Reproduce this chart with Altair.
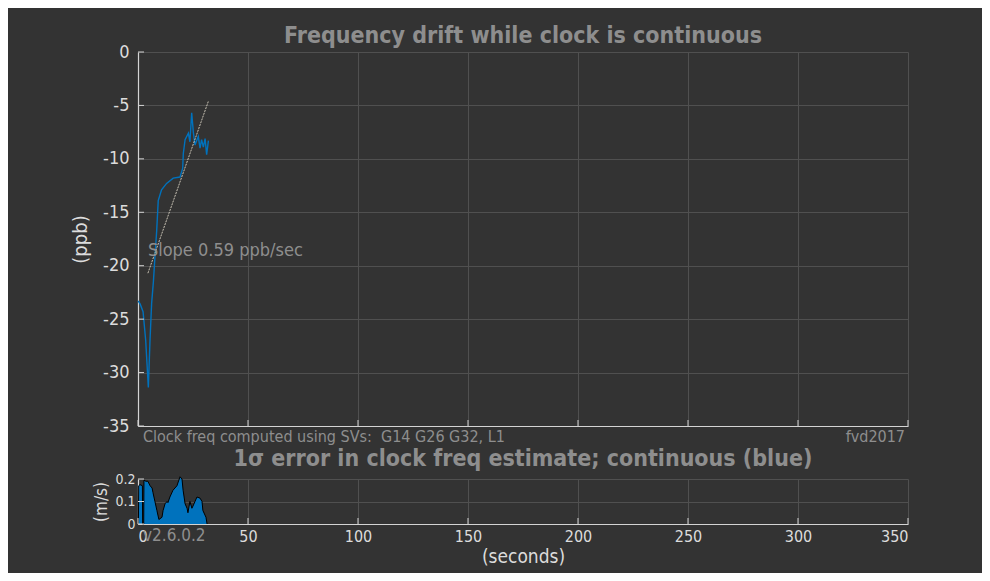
import altair as alt
import pandas as pd

# ---- data ----
drift_t = [0.1, 1.0, 2.3, 3.5, 4.7, 5.45, 6.2, 7.0, 7.7, 8.5, 9.2, 10.7, 13.0, 16.0, 19.1,
           20.3, 20.6, 21.4, 22.9, 23.6, 24.4, 25.2, 25.9, 27.4, 28.2, 28.9, 29.7, 30.5, 31.2, 32.0]
drift_v = [-23.3, -23.6, -24.3, -27.0, -31.4, -27.0, -23.5, -21.5, -19.2, -16.7, -13.9, -12.9,
           -12.3, -11.8, -11.7, -10.9, -9.5, -8.2, -7.6, -8.4, -5.7, -7.6, -8.7, -7.9, -9.0,
           -8.2, -8.9, -8.1, -9.6, -8.3]

fit_t = [4.5, 32.0]
fit_v = [-20.7, -4.6]

err_t = [0.2, 0.3, 0.9, 2.0, 2.1, 2.6, 2.7, 3.6, 4.5, 5.5, 6.4, 6.8, 7.7, 8.6, 9.5, 10.9, 11.4,
         12.3, 13.2, 13.6, 14.5, 15.9, 17.7, 19.1, 20.0, 20.5, 21.4, 22.3, 22.7, 23.6, 24.5,
         25.0, 25.9, 26.8, 28.2, 29.1, 29.5, 30.9, 31.4]
err_v = [0, 0.17, 0.175, 0.17, 0, 0, 0.195, 0.19, 0.19, 0.17, 0.16, 0.14, 0.10, 0.06, 0.02,
         0.03, 0.06, 0.09, 0.10, 0.095, 0.12, 0.15, 0.17, 0.21, 0.20, 0.15, 0.09, 0.07, 0.05,
         0.10, 0.07, 0.08, 0.10, 0.12, 0.115, 0.10, 0.06, 0.03, 0]

x_ticks = [0, 50, 100, 150, 200, 250, 300, 350]
y1_ticks = [0, -5, -10, -15, -20, -25, -30, -35]
y2_ticks = [0, 0.1, 0.2]

title_main = "Frequency drift while clock is continuous"
title_lower = "1σ error in clock freq estimate; continuous (blue)"
slope_label = "Slope 0.59 ppb/sec"
slope_pos_t = [4.5]
slope_pos_v = [-18.6]
foot_left = "Clock freq computed using SVs:\u00a0 G14 G26 G32, L1"
foot_right = "fvd2017"
version_label = "v2.6.0.2"

# ---- styles ----
BG = "#333333"
FONT = "DejaVu Sans Condensed, Liberation Sans Narrow, DejaVu Sans"
AXIS_C = "#d4d4d4"
LABEL_C = "#dcdcdc"
GRID_C = "#505050"
GRAY_TXT = "#8e8e8e"
BLUE = "#0072BD"
W, H1, H2 = 770, 374, 45
GAP = 53
# figure frame margins around the plot areas (figure is 974 x 565, fits the page)
M_LEFT, M_RIGHT, M_TOP, M_BOTTOM = 130, 74, 44, 49
PLAIN = "'' + datum.value"

df_drift = pd.DataFrame({"t": drift_t, "v": drift_v})
df_fit = pd.DataFrame({"t": fit_t, "v": fit_v})
df_err = pd.DataFrame({"t": err_t, "e": err_v})

xs = alt.Scale(domain=[0, 350], nice=False, zero=False)
y1s = alt.Scale(domain=[-35, 0], nice=False, zero=False)
y2s = alt.Scale(domain=[0, 0.2], nice=False, zero=False)

x_main = alt.X("t:Q", scale=xs, axis=alt.Axis(values=x_ticks, labels=False, ticks=False,
                                              title=None, grid=True))
y_main = alt.Y("v:Q", scale=y1s, axis=alt.Axis(values=y1_ticks, title="(ppb)", grid=True,
                                               ticks=False, labelFontSize=18, labelPadding=9,
                                               labelExpr=PLAIN,
                                               titleFontSize=20, titlePadding=12,
                                               titleFontWeight="normal"))

# figure frame edge (same colour as the background) so the figure spans the whole page
frame_top = alt.Chart(pd.DataFrame({"k": [0]})).mark_rule(color=BG, strokeWidth=1).encode(
    x=alt.value(-M_LEFT + 0.5), x2=alt.value(W + M_RIGHT - 0.5), y=alt.value(-M_TOP + 0.5))

line = alt.Chart(df_drift).mark_line(color=BLUE, strokeWidth=1.4).encode(x=x_main, y=y_main)
fit = alt.Chart(df_fit).mark_line(color="#c9c3b5", strokeWidth=1, strokeDash=[2, 1]).encode(x=x_main, y=y_main)
slope_txt = alt.Chart(pd.DataFrame({"t": slope_pos_t, "v": slope_pos_v, "label": [slope_label]})).mark_text(
    align="left", baseline="middle", font=FONT, fontSize=18, color=GRAY_TXT
).encode(x=x_main, y=y_main, text="label:N")

ytick_in = alt.Chart(pd.DataFrame({"v": y1_ticks})).mark_rule(color=AXIS_C, strokeWidth=1).encode(
    y=y_main, x=alt.value(0), x2=alt.value(6))
xtick_in = alt.Chart(pd.DataFrame({"t": x_ticks})).mark_rule(color=AXIS_C, strokeWidth=1).encode(
    x=x_main, y=alt.value(H1), y2=alt.value(H1 - 6))

foot_l = alt.Chart(pd.DataFrame({"label": [foot_left]})).mark_text(
    align="left", baseline="middle", font=FONT, fontSize=16, color=GRAY_TXT
).encode(x=alt.value(5), y=alt.value(H1 + 11), text="label:N")
foot_r = alt.Chart(pd.DataFrame({"label": [foot_right]})).mark_text(
    align="right", baseline="middle", font=FONT, fontSize=16, color=GRAY_TXT
).encode(x=alt.value(W - 3), y=alt.value(H1 + 11), text="label:N")

main = alt.layer(frame_top, line, fit, slope_txt, ytick_in, xtick_in, foot_l, foot_r).properties(
    width=W, height=H1,
    title=alt.TitleParams(title_main, fontSize=23, fontWeight="bold", color=GRAY_TXT, font=FONT, offset=-40))

x_low = alt.X("t:Q", scale=xs, axis=alt.Axis(values=x_ticks, title="(seconds)", grid=True, ticks=False,
                                             labelFontSize=16, labelPadding=4, labelExpr=PLAIN,
                                             titleFontSize=19, titlePadding=3,
                                             titleFontWeight="normal"))
y_low = alt.Y("e:Q", scale=y2s, axis=alt.Axis(values=y2_ticks, title="(m/s)", grid=True, ticks=False,
                                              labelExpr=PLAIN, labelFontSize=14, labelPadding=3,
                                              titleFontSize=17, titlePadding=4,
                                              titleFontWeight="normal"))

frame_bottom = alt.Chart(pd.DataFrame({"k": [0]})).mark_rule(color=BG, strokeWidth=1).encode(
    x=alt.value(-M_LEFT + 0.5), x2=alt.value(W + M_RIGHT - 0.5), y=alt.value(H2 + M_BOTTOM - 0.5))

area = alt.Chart(df_err).mark_area(color=BLUE, opacity=1,
                                   line={"color": "black", "strokeWidth": 1}).encode(x=x_low, y=y_low)
ytick2 = alt.Chart(pd.DataFrame({"e": y2_ticks})).mark_rule(color=AXIS_C, strokeWidth=1).encode(
    y=y_low, x=alt.value(0), x2=alt.value(6))
xtick2 = alt.Chart(pd.DataFrame({"t": x_ticks})).mark_rule(color=AXIS_C, strokeWidth=1).encode(
    x=x_low, y=alt.value(H2), y2=alt.value(H2 - 6))
ver = alt.Chart(pd.DataFrame({"label": [version_label]})).mark_text(
    align="left", baseline="middle", font=FONT, fontSize=17, color=GRAY_TXT
).encode(x=alt.value(5), y=alt.value(H2 + 12), text="label:N")

lower = alt.layer(frame_bottom, area, ytick2, xtick2, ver).properties(
    width=W, height=H2,
    title=alt.TitleParams(title_lower, fontSize=23, fontWeight="bold", color=GRAY_TXT, font=FONT, offset=1))

chart = alt.vconcat(main, lower, spacing=GAP, bounds="flush").properties(
    background=BG,
    padding=0,
).configure_view(stroke=None).configure_axis(
    labelFont=FONT, titleFont=FONT, labelColor=LABEL_C, titleColor=LABEL_C,
    domainColor=AXIS_C, domainWidth=1.2, gridColor=GRID_C, gridWidth=1, gridOpacity=1,
)

chart.save("out.html", embed_options={"renderer": "svg", "actions": False})
